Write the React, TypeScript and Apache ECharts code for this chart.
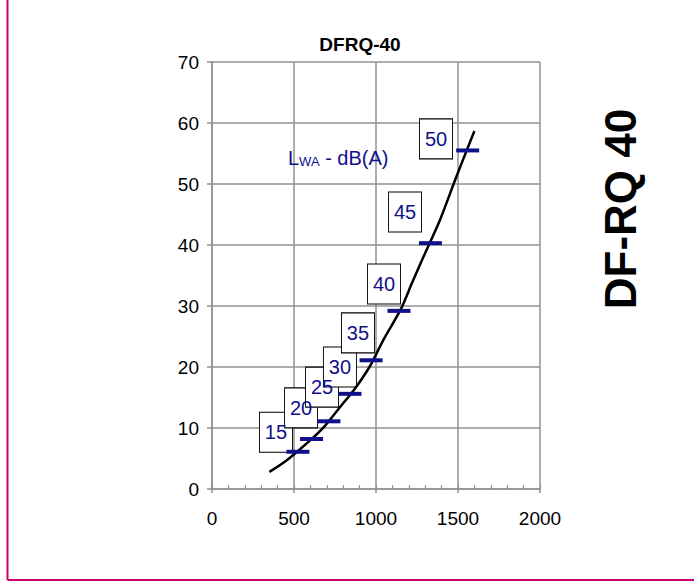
import React, { useEffect, useRef } from "react";
import * as echarts from "echarts";

const curveX = [350, 450, 540, 620, 690, 780, 870, 960, 1050, 1150, 1220, 1290, 1390, 1490, 1600];
const curveY = [2.8, 4.6, 6.6, 8.5, 10.4, 13.4, 16.4, 20.0, 24.7, 29.4, 33.8, 38.1, 44.1, 51.2, 58.7];

const levelLabels = ["15", "20", "25", "30", "35", "40", "45", "50"];
const markX = [524, 607, 713, 841, 970, 1140, 1332, 1559];
const markY = [6.1, 8.2, 11.1, 15.6, 21.1, 29.2, 40.3, 55.5];
const boxX = [390, 543, 671, 780, 890, 1049, 1177, 1366];
const boxY = [9.3, 13.3, 16.7, 20.0, 25.6, 33.6, 45.4, 57.4];

const xTicks = [0, 500, 1000, 1500, 2000];
const yTicks = [0, 10, 20, 30, 40, 50, 60, 70];

const NAVY = "#10108a";
const GRID = "#929292";
const FONT = "Liberation Sans, Arial, sans-serif";

export default function App() {
  const ref = useRef<HTMLDivElement>(null);
  useEffect(() => {
    if (!ref.current) return;
    const chart = echarts.init(ref.current, null, { renderer: "svg" });
    const xMin = xTicks[0];
    const xMax = xTicks[xTicks.length - 1];
    const yMin = yTicks[0];
    const yMax = yTicks[yTicks.length - 1];
    chart.setOption({
      animation: false,
      backgroundColor: "#ffffff",
      grid: [{ left: 212, right: 154, top: 62, bottom: 92 }],
      xAxis: [
        {
          type: "value",
          min: xMin,
          max: xMax,
          interval: 500,
          axisLine: { show: true, lineStyle: { color: GRID, width: 1.5 } },
          axisTick: { show: true, length: 4, lineStyle: { color: GRID, width: 1.5 } },
          axisLabel: {
            color: "#000",
            fontSize: 19,
            fontFamily: FONT,
            margin: 20,
            formatter: (v: number) => String(v),
          },
          splitLine: { show: true, lineStyle: { color: GRID, width: 1.5 } },
        },
        {
          type: "value",
          min: xMin,
          max: xMax,
          interval: 100,
          position: "bottom",
          axisLine: { show: false },
          axisTick: { show: true, inside: true, length: 4, lineStyle: { color: GRID, width: 1.2 } },
          axisLabel: { show: false },
          splitLine: { show: false },
        },
      ],
      yAxis: [
        {
          type: "value",
          min: yMin,
          max: yMax,
          interval: 10,
          axisLine: { show: true, lineStyle: { color: GRID, width: 1.5 } },
          axisTick: { show: true, length: 5, lineStyle: { color: GRID, width: 1.5 } },
          axisLabel: {
            color: "#000",
            fontSize: 19,
            fontFamily: FONT,
            margin: 13,
            formatter: (v: number) => String(v),
          },
          splitLine: { show: true, lineStyle: { color: GRID, width: 1.5 } },
        },
      ],
      series: [
        {
          type: "scatter",
          xAxisIndex: 0,
          symbol: "rect",
          symbolSize: [33, 40],
          itemStyle: { color: "#ffffff", borderColor: "#000", borderWidth: 1, opacity: 1 },
          label: {
            show: true,
            position: "inside",
            formatter: (p: any) => p.data[2],
            color: NAVY,
            fontSize: 20,
            fontFamily: FONT,
          },
          data: boxX.map((x, i) => [x, boxY[i], levelLabels[i]]),
          z: 2,
        },
        {
          type: "line",
          xAxisIndex: 0,
          data: curveX.map((x, i) => [x, curveY[i]]),
          smooth: 0.3,
          showSymbol: false,
          lineStyle: { color: "#000", width: 2.5 },
          z: 3,
        },
        {
          type: "scatter",
          xAxisIndex: 0,
          symbol: "rect",
          symbolSize: [23, 4],
          itemStyle: { color: NAVY, opacity: 1 },
          data: markX.map((x, i) => [x, markY[i]]),
          z: 4,
        },
      ],
      graphic: [
        {
          type: "line",
          shape: { x1: 7.5, y1: 0, x2: 7.5, y2: 580 },
          style: { stroke: "#cc0066", lineWidth: 2 },
        },
        {
          type: "line",
          shape: { x1: 7.5, y1: 580, x2: 694, y2: 580 },
          style: { stroke: "#cc0066", lineWidth: 2 },
        },
        {
          type: "text",
          x: 360,
          y: 44,
          style: {
            text: "DFRQ-40",
            fill: "#000",
            font: `bold 19px ${FONT}`,
            textAlign: "center",
            textVerticalAlign: "middle",
          },
        },
        {
          type: "text",
          x: 620,
          y: 209,
          rotation: Math.PI / 2,
          style: {
            text: "DF-RQ 40",
            fill: "#000",
            font: `bold 44px ${FONT}`,
            textAlign: "center",
            textVerticalAlign: "middle",
          },
        },
        {
          type: "text",
          x: 288,
          y: 168,
          z: 10,
          style: {
            text: "{a|L}{b|WA}{a| - dB(A)}",
            textVerticalAlign: "bottom",
            rich: {
              a: { fontSize: 20, fontFamily: FONT, fill: NAVY, verticalAlign: "bottom" },
              b: { fontSize: 13, fontFamily: FONT, fill: NAVY, verticalAlign: "bottom" },
            },
          },
        },
      ],
    });
    return () => chart.dispose();
  }, []);
  return (
    <div
      ref={ref}
      style={{ position: "absolute", left: 0, top: 0, width: 694, height: 581 }}
    />
  );
}
